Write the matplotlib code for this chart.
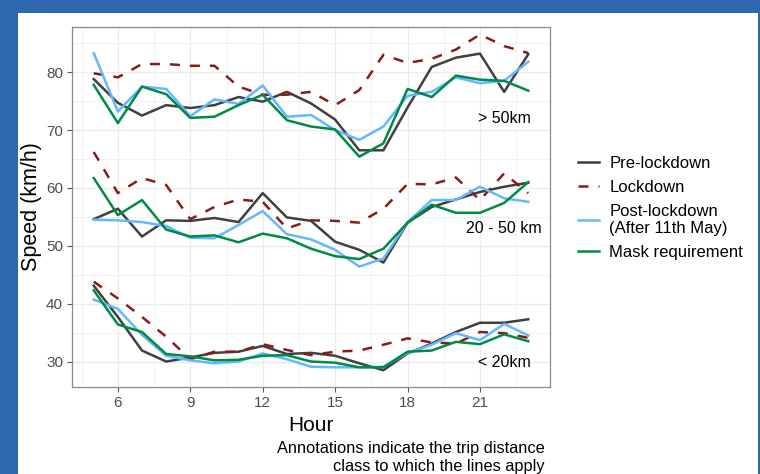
import matplotlib

matplotlib.use("Agg")
import matplotlib.pyplot as plt
from matplotlib.patches import Rectangle
from matplotlib.ticker import MultipleLocator

plt.rcParams["font.family"] = ["Liberation Sans", "DejaVu Sans"]

hours = list(range(5, 24))

# > 50km
pre_long = [78.8, 74.7, 72.5, 74.3, 73.8, 74.3, 75.7, 74.9, 76.6, 74.6, 71.8, 66.5, 66.5, 73.9, 80.9, 82.5, 83.2, 76.6, 83.1]
lock_long = [79.8, 79.1, 81.4, 81.4, 81.1, 81.1, 77.5, 76.1, 76.1, 76.6, 74.3, 76.9, 83.0, 81.6, 82.3, 83.9, 86.5, 84.5, 83.3]
post_long = [83.3, 73.2, 77.5, 77.1, 72.4, 75.3, 74.5, 77.7, 72.3, 72.6, 70.0, 68.3, 70.6, 75.9, 76.6, 79.1, 78.1, 78.5, 81.8]
mask_long = [77.8, 71.2, 77.5, 76.2, 72.1, 72.3, 74.3, 76.1, 71.7, 70.6, 70.1, 65.4, 67.7, 77.1, 75.7, 79.4, 78.7, 78.5, 76.8]

# 20 - 50 km
pre_mid = [54.6, 56.4, 51.6, 54.4, 54.3, 54.8, 54.1, 59.1, 54.9, 54.3, 50.7, 49.3, 47.1, 54.0, 56.7, 58.0, 59.3, 60.2, 60.9]
lock_mid = [66.2, 59.1, 61.7, 60.5, 54.6, 56.7, 58.0, 57.6, 53.0, 54.4, 54.3, 54.0, 56.4, 60.7, 60.6, 61.8, 57.9, 62.5, 59.1]
post_mid = [54.5, 54.4, 54.1, 53.4, 51.4, 51.3, 53.6, 56.0, 52.0, 51.1, 49.3, 46.4, 47.8, 54.1, 57.9, 57.9, 60.2, 58.2, 57.6]
mask_mid = [61.7, 55.3, 57.9, 52.8, 51.6, 51.8, 50.6, 52.1, 51.3, 49.5, 48.2, 47.7, 49.5, 54.0, 57.1, 55.7, 55.7, 57.4, 61.0]

# < 20km
pre_short = [43.1, 37.7, 31.9, 30.0, 30.7, 31.5, 31.7, 32.7, 31.3, 31.5, 31.0, 29.7, 28.5, 31.4, 33.1, 35.1, 36.7, 36.7, 37.3]
lock_short = [43.8, 40.9, 37.7, 34.3, 30.4, 31.7, 31.7, 33.0, 32.0, 31.1, 31.7, 31.9, 32.9, 34.0, 33.3, 33.1, 35.1, 34.9, 34.1]
post_short = [40.7, 39.1, 34.6, 31.0, 30.2, 29.7, 30.0, 31.4, 30.4, 29.1, 29.0, 29.0, 29.1, 31.5, 32.9, 34.9, 33.7, 36.5, 34.5]
mask_short = [42.3, 36.4, 35.1, 31.3, 30.9, 30.2, 30.3, 31.0, 31.1, 30.0, 29.8, 29.0, 29.0, 31.7, 31.9, 33.4, 33.0, 34.7, 33.5]

series_names = ["Pre-lockdown", "Lockdown", "Post-lockdown\n(After 11th May)", "Mask requirement"]
series_data = [
    [pre_long, pre_mid, pre_short],
    [lock_long, lock_mid, lock_short],
    [post_long, post_mid, post_short],
    [mask_long, mask_mid, mask_short],
]
colors = ["#404040", "#8B1A1A", "#63B8FF", "#008B45"]
styles = ["-", (0, (4, 4)), "-", "-"]

class_labels = ["> 50km", "20 - 50 km", "< 20km"]
label_hour = [22, 22, 22]
label_speed = [72, 53, 29.8]

fig = plt.figure(figsize=(7.6, 4.74), dpi=100)
fig.patch.set_facecolor("#2E69B0")
fig.patches.append(Rectangle((18 / 760, 0), 740 / 760, 1 - 13 / 474,
                             transform=fig.transFigure, facecolor="white",
                             edgecolor="none", zorder=-10))

ax = fig.add_axes([72 / 760, 1 - 387 / 474, 478 / 760, 360 / 474])
ax.set_zorder(2)
ax.set_facecolor("white")

for name, groups, col, ls in zip(series_names, series_data, colors, styles):
    for i, vals in enumerate(groups):
        ax.plot(hours, vals, color=col, linestyle=ls, linewidth=1.8,
                label=name if i == 0 else None)

for txt, hx, sy in zip(class_labels, label_hour, label_speed):
    ax.text(hx, sy, txt, ha="center", va="center", fontsize=11.5, color="black")

ax.set_xlim(4.1, 23.9)
ax.set_ylim(25.6, 87.8)
ax.xaxis.set_major_locator(MultipleLocator(3))
ax.xaxis.set_minor_locator(MultipleLocator(1.5))
ax.yaxis.set_major_locator(MultipleLocator(10))
ax.yaxis.set_minor_locator(MultipleLocator(5))
ax.grid(which="major", color="#EBEBEB", linewidth=0.9)
ax.grid(which="minor", color="#EBEBEB", linewidth=0.5)
ax.set_axisbelow(True)
ax.tick_params(which="minor", length=0)
ax.tick_params(which="major", length=3.5, width=0.8, color="#555555",
               labelsize=11, labelcolor="#4D4D4D", pad=3)
for sp in ax.spines.values():
    sp.set_color("#8A8A8A")
    sp.set_linewidth(0.9)

ax.set_xlabel("Hour", fontsize=15, labelpad=4)
fig.text(32 / 760, 1 - 207 / 474, "Speed (km/h)", rotation=90, ha="center",
         va="center", fontsize=15.5)
fig.text(545 / 760, 1 - 448 / 474, "Annotations indicate the trip distance",
         ha="right", va="center", fontsize=11.8)
fig.text(545 / 760, 1 - 467 / 474, "class to which the lines apply",
         ha="right", va="center", fontsize=11.8)

leg = fig.legend(loc="center left", bbox_to_anchor=(571 / 760, 1 - 208 / 474),
                 frameon=False, fontsize=12, handlelength=1.3,
                 handletextpad=0.6, labelspacing=0.55, borderaxespad=0)
leg.get_texts()[2].set_linespacing(1.1)

fig.savefig("out.png", dpi=100, facecolor=fig.get_facecolor())
